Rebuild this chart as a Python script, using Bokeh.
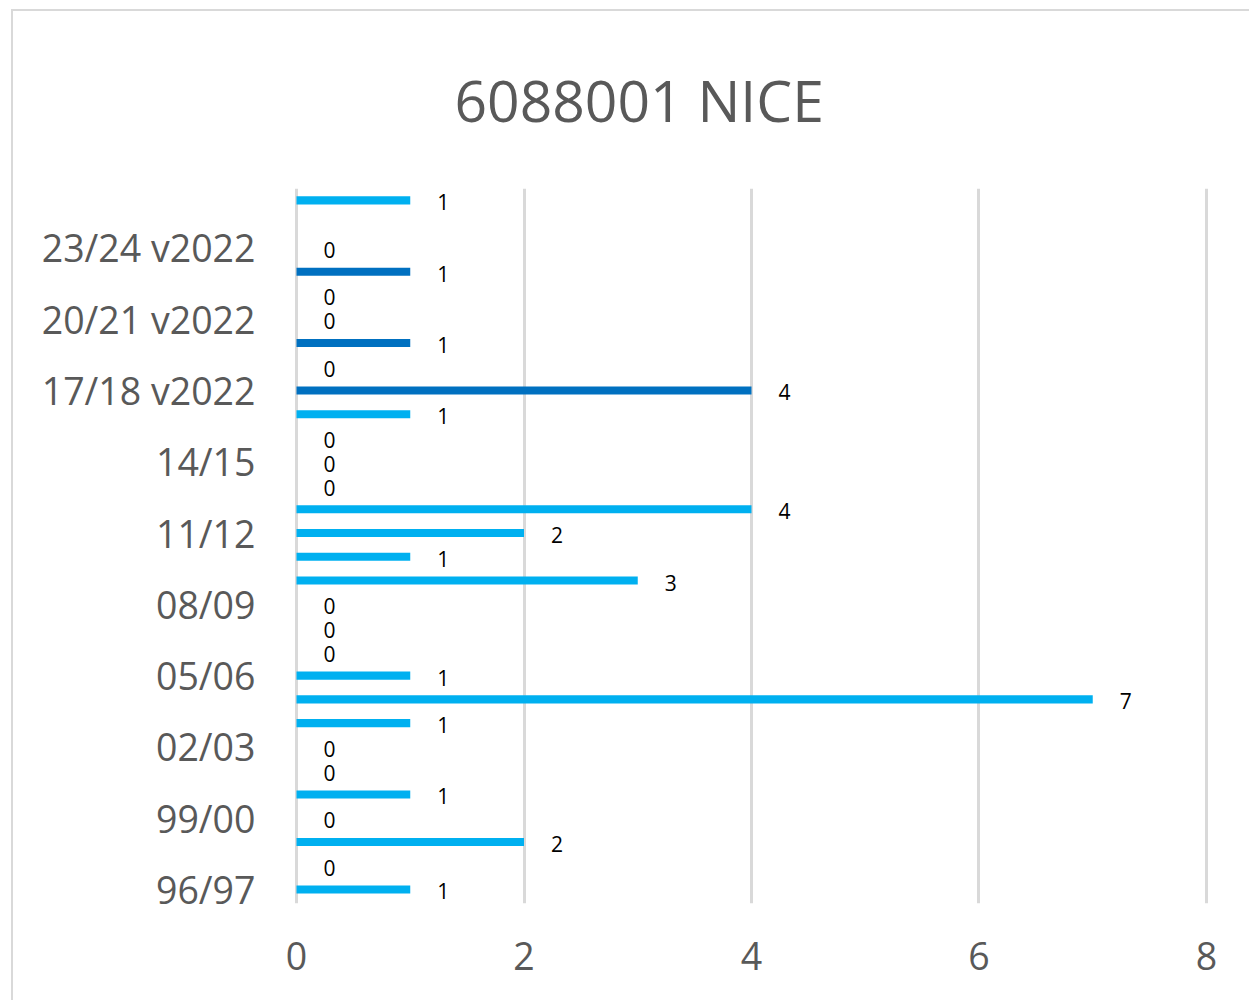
from bokeh.plotting import figure
from bokeh.models import ColumnDataSource, FixedTicker, Range1d
from bokeh.core.properties import value
from bokeh.embed import file_html
from bokeh.resources import INLINE

title_text = "6088001 NICE"

seasons = ["96/97", "97/98", "98/99", "99/00", "00/01", "01/02", "02/03", "03/04",
           "04/05", "05/06", "06/07", "07/08", "08/09", "09/10", "10/11", "11/12",
           "12/13", "13/14", "14/15", "15/16", "16/17", "17/18 v2022", "18/19 v2022",
           "19/20 v2022", "20/21 v2022", "21/22 v2022", "22/23 v2022", "23/24 v2022",
           "24/25 v2022", "24/25"]

counts_main = [1, 0, 2, 0, 1, 0, 0, 1, 7, 1, 0, 0, 0, 3, 1, 2, 4, 0, 0, 0, 1,
               None, None, None, None, None, None, None, None, 1]
counts_v2022 = [None] * 21 + [4, 0, 1, 0, 0, 1, 0, None, None]

x_ticks = [0, 2, 4, 6, 8]
label_step = 3

FONT = "Open Sans"
GREY = "#595959"


def make_source(vals):
    ys, xs, labels = [], [], []
    for i, v in enumerate(vals):
        if v is None:
            continue
        ys.append(i)
        xs.append(v)
        labels.append(str(v))
    return ColumnDataSource(dict(y=ys, x=xs, label=labels))


src_main = make_source(counts_main)
src_v2022 = make_source(counts_v2022)

p = figure(width=1238, height=991,
           x_range=Range1d(-0.0264, 8.0264), y_range=Range1d(-0.59, 29.5),
           output_backend="svg", toolbar_location=None,
           min_border_left=280, min_border_right=42,
           min_border_top=177, min_border_bottom=99,
           styles={"border-left": "2px solid #D9D9D9",
                   "border-top": "2px solid #D9D9D9",
                   "margin-left": "11px", "margin-top": "9px"})
p.outline_line_color = None
p.background_fill_color = "white"
p.border_fill_color = "white"

p.title.text = title_text
p.title.align = "left"
p.title.vertical_align = "top"
p.title.offset = 161
p.title.standoff = 96
p.title.text_font = FONT
p.title.text_font_size = "57px"
p.title.text_font_style = "normal"
p.title.text_color = GREY

p.xgrid.grid_line_color = "#D9D9D9"
p.xgrid.grid_line_width = 3
p.ygrid.grid_line_color = None

p.xaxis.ticker = FixedTicker(ticks=x_ticks)
tick_idx = list(range(0, len(seasons) - 2, label_step))
p.yaxis.ticker = FixedTicker(ticks=tick_idx)
p.yaxis.major_label_overrides = {i: seasons[i] for i in tick_idx}

for ax in (p.xaxis[0], p.yaxis[0]):
    ax.axis_line_color = None
    ax.major_tick_line_color = None
    ax.minor_tick_line_color = None
    ax.major_label_text_font = FONT
    ax.major_label_text_font_size = "37.5px"
    ax.major_label_text_color = GREY
p.yaxis.major_label_standoff = 32
p.xaxis.major_label_standoff = 32

bar_h = 0.34
p.hbar(y="y", left=0, right="x", height=bar_h, fill_color="#00B0F0",
       line_color=None, source=src_main)
p.hbar(y="y", left=0, right="x", height=bar_h, fill_color="#0070C0",
       line_color=None, source=src_v2022)

for src in (src_main, src_v2022):
    p.text(x="x", y="y", text="label", source=src, x_offset=27, y_offset=2,
           text_align="left", text_baseline="middle",
           text_font=value(FONT), text_font_size="21px", text_color="black")

open("out.html", "w").write(file_html(p, INLINE))
